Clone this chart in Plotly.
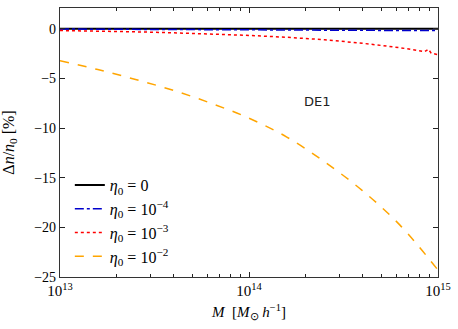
import plotly.graph_objects as go

# Halo mass grid [M_sun/h]
mass = [1e13, 1.585e13, 2.512e13, 3.981e13, 6.310e13, 1e14, 1.585e14, 2.512e14, 3.981e14, 6.310e14, 1e15]
mass_red = [1e13, 1.585e13, 2.512e13, 3.981e13, 6.310e13, 1e14, 1.585e14, 2.512e14, 3.981e14, 6.310e14, 8.5e14, 8.9e14, 9.2e14, 1e15]

dn_eta0 = [0, 0, 0, 0, 0, 0, 0, 0, 0, 0, 0]
dn_eta4 = [-0.02, -0.03, -0.03, -0.04, -0.05, -0.06, -0.07, -0.09, -0.11, -0.14, -0.18]
dn_eta3 = [-0.17, -0.22, -0.30, -0.40, -0.50, -0.66, -0.85, -1.10, -1.45, -1.90, -2.30, -2.05, -2.45, -2.60]
dn_eta2 = [-3.2, -4.1, -5.1, -6.2, -7.5, -9.0, -10.9, -13.4, -16.3, -19.8, -24.3]

names = ["<i>η</i><sub>0</sub> = 0",
         "<i>η</i><sub>0</sub> = 10<sup>−4</sup>",
         "<i>η</i><sub>0</sub> = 10<sup>−3</sup>",
         "<i>η</i><sub>0</sub> = 10<sup>−2</sup>"]

x_tickvals = [1e13, 1e14, 1e15]
x_ticktext = ["10<sup>13</sup>", "10<sup>14</sup>", "10<sup>15</sup>"]
x_minor = [k * 1e13 for k in range(2, 10)] + [k * 1e14 for k in range(2, 10)]
y_tickvals = [0, -5, -10, -15, -20, -25]
y_ticktext = ["0", "−5", "−10", "−15", "−20", "−25"]

fig = go.Figure()
fig.add_trace(go.Scatter(x=mass, y=dn_eta0, mode="lines", name=names[0],
                         line=dict(color="black", width=2, dash="solid")))
fig.add_trace(go.Scatter(x=mass, y=dn_eta4, mode="lines", name=names[1],
                         line=dict(color="#0000cc", width=1.5, dash="dashdot")))
fig.add_trace(go.Scatter(x=mass_red, y=dn_eta3, mode="lines", name=names[2],
                         line=dict(color="red", width=1.5, dash="dot")))
fig.add_trace(go.Scatter(x=mass, y=dn_eta2, mode="lines", name=names[3], line_shape="spline",
                         line=dict(color="orange", width=1.5, dash="dash")))
# invisible helper trace so the minor-tick overlay axis is drawn
fig.add_trace(go.Scatter(x=[mass[0], mass[-1]], y=[None, None], xaxis="x2", yaxis="y",
                         mode="lines", showlegend=False, hoverinfo="skip"))

fig.add_annotation(x=14.36, y=-7.3, xref="x", yref="y", text="DE1", showarrow=False,
                   font=dict(family="DejaVu Sans", size=13, color="#222"))

serif = "Liberation Serif"
tick_style = dict(ticks="inside", tickwidth=1.1, tickcolor="#222", mirror="ticks",
                  showgrid=False, zeroline=False)
fig.update_layout(
    width=458, height=329,
    margin=dict(l=59, r=19, t=7, b=52),
    plot_bgcolor="white", paper_bgcolor="white",
    font=dict(family=serif, size=14, color="black"),
    showlegend=True,
    legend=dict(x=0.026, y=0.405, xanchor="left", yanchor="top",
                bgcolor="rgba(0,0,0,0)", font=dict(family=serif, size=16)),
    xaxis=dict(type="log", range=[13, 15], tickmode="array", tickvals=x_tickvals, ticktext=x_ticktext,
               ticklen=5, showline=True, linecolor="#333", linewidth=1.2, **tick_style,
               title=dict(text="<i>M</i>  [<i>M</i><sub>⊙</sub> <i>h</i><sup>−1</sup>]",
                          font=dict(family=serif, size=15), standoff=8),
               tickfont=dict(family=serif, size=15)),
    xaxis2=dict(type="log", range=[13, 15], overlaying="x", anchor="y", side="bottom",
                tickmode="array", tickvals=x_minor, showticklabels=False,
                ticklen=3, showline=False, **tick_style),
    yaxis=dict(range=[-25, 2.1], tickvals=y_tickvals, ticktext=y_ticktext,
               ticklen=5, showline=True, linecolor="#333", linewidth=1.2, **tick_style,
               title=dict(text="Δ<i>n</i>/<i>n</i><sub>0</sub> [%]",
                          font=dict(family=serif, size=16), standoff=16),
               tickfont=dict(family=serif, size=14)),
)

fig.write_html("out.html", config={"displayModeBar": False},
               post_script="document.body.style.margin='0';document.body.style.overflow='hidden';")
